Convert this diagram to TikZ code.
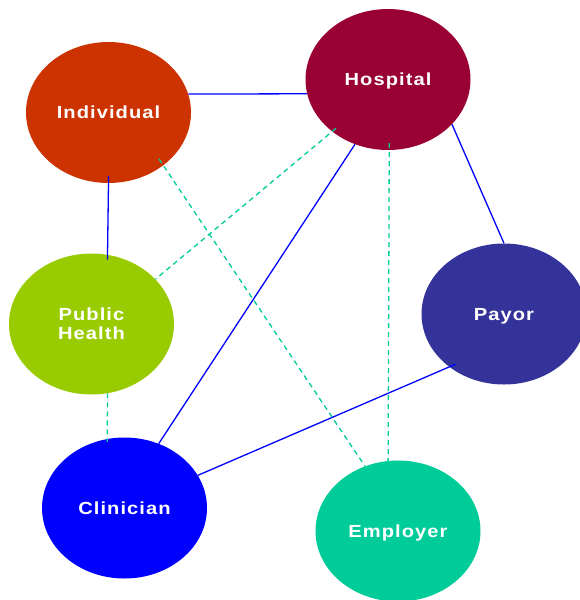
\documentclass[tikz,border=0pt]{standalone}
\usepackage{fontspec}
\usetikzlibrary{shapes.geometric}
\newfontfamily\lblfont[LetterSpace=6,FakeStretch=1.15]{Liberation Sans}
\definecolor{indcol}{HTML}{CC3300}
\definecolor{hospcol}{HTML}{990033}
\definecolor{phcol}{HTML}{99CC00}
\definecolor{payorcol}{HTML}{333399}
\definecolor{clincol}{HTML}{0000FF}
\definecolor{empcol}{HTML}{00CC99}
\tikzset{
  actor/.style={
    ellipse, fill=#1, inner sep=0pt,
    minimum width=165pt, minimum height=141pt,
    text=white, align=center, text depth=0pt,
    font=\lblfont\bfseries\fontsize{17.5}{19}\selectfont
  },
  tie/.style={draw=clincol, line width=1.3pt},
  loose/.style={draw=empcol, line width=1.3pt, dash pattern=on 5pt off 4pt}
}

\begin{document}
\begin{tikzpicture}[x=1pt,y=-1pt]
\useasboundingbox (0,0) rectangle (579,600);
% the parties
\node[actor=indcol]   (ind)   at (108.5,112.5) {Individual};
\node[actor=hospcol]  (hosp)  at (388,79.5)    {Hospital};
\node[actor=phcol]    (ph)    at (91.5,324)    {Public\\Health};
\node[actor=payorcol] (payor) at (504,314)     {Payor};
\node[actor=clincol]  (clin)  at (124.5,508)   {Clinician};
\node[actor=empcol]   (emp)   at (398,531)     {Employer};
% solid links
\draw[tie] (ind.13.5) -- (hosp.190);
\draw[tie, shorten <=-7pt, shorten >=-5pt] (ind.-90.7) -- (ph.77);
\draw[tie] (hosp.-35) -- (payor.90);
\draw[tie] (hosp.243) -- (clin.62);
\draw[tie, shorten <=-7pt] (payor.224) -- (clin.24.5);
% dashed links
\draw[loose, shorten <=-8pt] (ind.-44) -- (emp.117);
\draw[loose, shorten <=-5pt] (hosp.223) -- (ph.35);
\draw[loose, shorten <=-7pt] (hosp.-89) -- (emp.98);
\draw[loose, shorten >=-3pt] (ph.-77) -- (clin.104);
\end{tikzpicture}
\end{document}
